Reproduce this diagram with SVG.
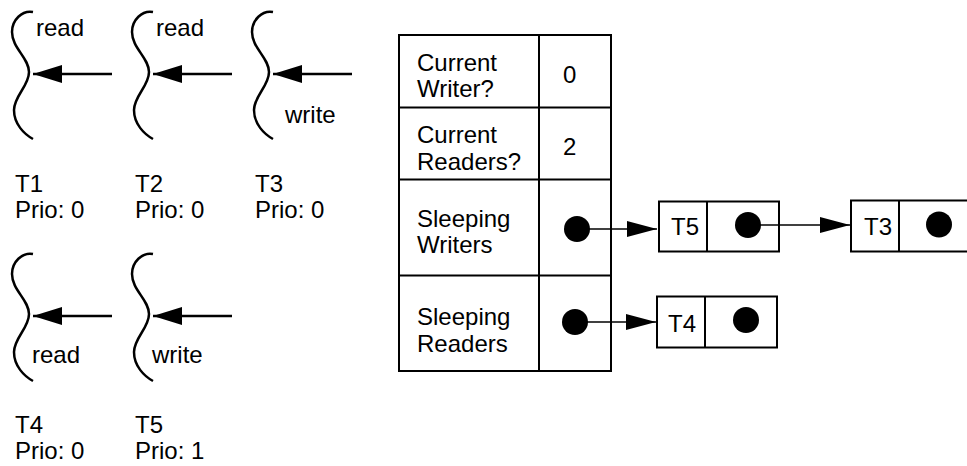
<svg xmlns="http://www.w3.org/2000/svg" width="967" height="466" viewBox="0 0 967 466">
  <defs>
    <style>
      text { font-family: "Liberation Sans", Arial, Helvetica, sans-serif; font-size: 24px; fill: #000; }
      .squig { fill: none; stroke: #000; stroke-width: 2.5; }
      .thick { stroke: #000; stroke-width: 2.5; fill: none; }
      .thin { stroke: #000; stroke-width: 1.3; fill: none; }
      .box { fill: #fff; stroke: #000; stroke-width: 2; }
      .dot { fill: #000; }
    </style>
    <path id="squiggle" class="squig" d="M33,12 C22,10 12,20 12,32 C12,48 29,58 29,72 C29,86 14,96 14,110 C14,124 24,134 33,139"/>
    <marker id="bigHead" markerWidth="29" markerHeight="18" refX="29" refY="9" orient="auto" markerUnits="userSpaceOnUse">
      <path d="M0,0 L29,9 L0,18 Z" fill="#000"/>
    </marker>
    <marker id="headR" markerWidth="30" markerHeight="16" refX="30" refY="8" orient="auto" markerUnits="userSpaceOnUse">
      <path d="M0,0 L30,8 L0,16 Z" fill="#000"/>
    </marker>
  </defs>
  <rect width="967" height="466" fill="#fff"/>

  <g id="thread-t1">
    <use href="#squiggle"/>
    <text x="36" y="36">read</text>
    <text x="15" y="192">T1</text>
    <text x="15" y="218">Prio: 0</text>
  </g>
  <g id="thread-t2">
    <use href="#squiggle" x="120"/>
    <text x="156" y="36">read</text>
    <text x="135" y="192">T2</text>
    <text x="135" y="218">Prio: 0</text>
  </g>
  <g id="thread-t3">
    <use href="#squiggle" x="240"/>
    <text x="285" y="123">write</text>
    <text x="255" y="192">T3</text>
    <text x="255" y="218">Prio: 0</text>
  </g>
  <g id="thread-t4">
    <use href="#squiggle" y="242"/>
    <text x="32" y="363">read</text>
    <text x="15" y="433">T4</text>
    <text x="15" y="459">Prio: 0</text>
  </g>
  <g id="thread-t5">
    <use href="#squiggle" x="120" y="242"/>
    <text x="152" y="363">write</text>
    <text x="135" y="433">T5</text>
    <text x="135" y="459">Prio: 1</text>
  </g>

  <g id="table">
    <rect class="box" x="399" y="35" width="212" height="336"/>
    <line class="box" x1="539" y1="35" x2="539" y2="371"/>
    <line class="box" x1="399" y1="107.5" x2="611" y2="107.5"/>
    <line class="box" x1="399" y1="179.5" x2="611" y2="179.5"/>
    <line class="box" x1="399" y1="275.5" x2="611" y2="275.5"/>
    <text x="417" y="71">Current</text>
    <text x="417" y="97">Writer?</text>
    <text x="563" y="83">0</text>
    <text x="417" y="143">Current</text>
    <text x="417" y="170">Readers?</text>
    <text x="563" y="155">2</text>
    <text x="417" y="227">Sleeping</text>
    <text x="417" y="253">Writers</text>
    <text x="417" y="325">Sleeping</text>
    <text x="417" y="352">Readers</text>
    <circle class="dot" cx="577" cy="229" r="13"/>
    <circle class="dot" cx="575" cy="322" r="13"/>
  </g>

  <g id="node-t5">
    <rect class="box" x="659" y="201.5" width="120" height="50"/>
    <line class="box" x1="707" y1="201.5" x2="707" y2="251.5"/>
    <text x="671" y="235">T5</text>
    <circle class="dot" cx="748" cy="225" r="13"/>
  </g>
  <g id="node-t3">
    <rect class="box" x="851" y="200.5" width="125" height="51"/>
    <line class="box" x1="899" y1="200.5" x2="899" y2="251.5"/>
    <text x="864" y="235">T3</text>
    <circle class="dot" cx="939" cy="224.5" r="13"/>
  </g>
  <g id="node-t4">
    <rect class="box" x="657" y="296.5" width="120" height="51"/>
    <line class="box" x1="705" y1="296.5" x2="705" y2="347.5"/>
    <text x="668" y="332">T4</text>
    <circle class="dot" cx="746" cy="320" r="13"/>
  </g>

  <g id="connectors">
    <line class="thick" x1="112" y1="74" x2="33" y2="74" marker-end="url(#bigHead)"/>
    <line class="thick" x1="232" y1="74" x2="153" y2="74" marker-end="url(#bigHead)"/>
    <line class="thick" x1="352" y1="74" x2="273" y2="74" marker-end="url(#bigHead)"/>
    <line class="thick" x1="112" y1="316" x2="33" y2="316" marker-end="url(#bigHead)"/>
    <line class="thick" x1="232" y1="316" x2="153" y2="316" marker-end="url(#bigHead)"/>
    <line class="thin" x1="577" y1="229" x2="657" y2="229" marker-end="url(#headR)"/>
    <line class="thin" x1="748" y1="225" x2="850" y2="225" marker-end="url(#headR)"/>
    <line class="thin" x1="575" y1="322" x2="656" y2="322" marker-end="url(#headR)"/>
  </g>
</svg>
